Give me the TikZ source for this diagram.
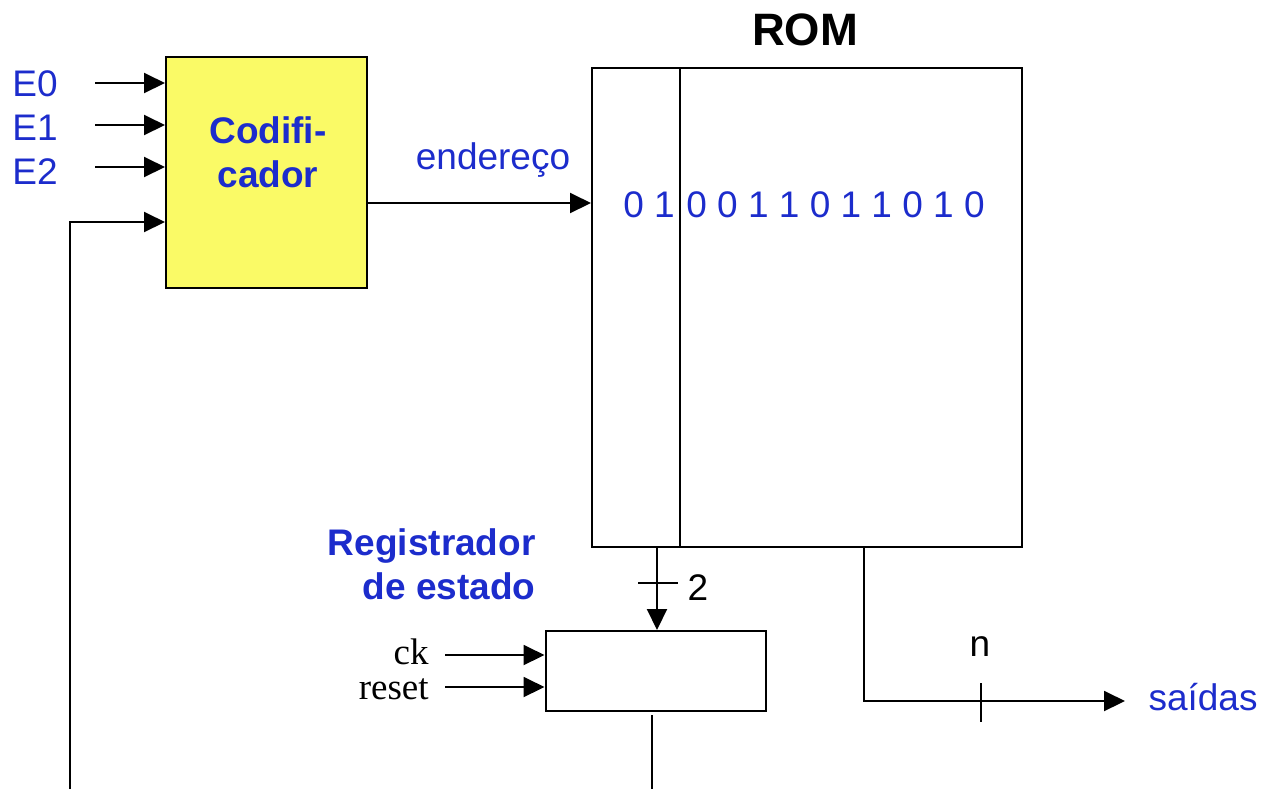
\documentclass[tikz,border=0pt]{standalone}
\usepackage{fontspec}
\setmainfont{Liberation Sans}
\newfontfamily\timesx{Liberation Serif}
\usetikzlibrary{arrows.meta,calc}
\definecolor{lblue}{RGB}{28,44,204}
\definecolor{lyellow}{RGB}{250,250,102}
\tikzset{
  wire/.style={line width=1pt},
  arr/.style={wire,-{Triangle[length=10.5pt,width=10pt]}},
  blk/.style={draw,line width=1pt,rectangle,inner sep=0pt},
  txt/.style={font=\fontsize{18.5}{22}\selectfont,inner sep=0pt},
  btxt/.style={font=\fontsize{18.5}{22}\selectfont\bfseries,inner sep=0pt,text=lblue},
  btext/.style={txt,text=lblue},
}
\begin{document}
\begin{tikzpicture}[x=0.5pt,y=-0.5pt]
\useasboundingbox (0,0) rectangle (1263,789);

% ROM block with its two column fields
\node[font=\fontsize{22.7}{26}\selectfont\bfseries,inner sep=0pt] (romt) at (805,30) {ROM};
\node[blk,minimum width=215pt,minimum height=239.5pt] (rom) at (807,307.5) {};
\coordinate (divt) at (680,68);
\coordinate (divb) at (680,547);
\draw[wire] (divt) -- (divb);
\node[btext,anchor=west] (bitsa) at (623,205) {0 1};
\node[btext,anchor=west] (bitsb) at (686,205) {0 0 1 1 0 1 1 0 1 0};

% encoder
\node[blk,fill=lyellow,minimum width=100.5pt,minimum height=115.5pt] (cod) at (266.5,172.5) {};
\node[btxt,align=center] (codt) at (268,152) {Codifi-\\cador};

% inputs of the encoder
\node[btext] (e0) at (35,84) {E0};
\node[btext] (e1) at (35,128) {E1};
\node[btext] (e2) at (35,172) {E2};
\coordinate (i0) at (95,83);
\coordinate (i1) at (95,125);
\coordinate (i2) at (95,167);
\draw[arr] (i0) -- (i0 -| cod.west);
\draw[arr] (i1) -- (i1 -| cod.west);
\draw[arr] (i2) -- (i2 -| cod.west);

% address bus
\coordinate (ad) at (367,203);
\draw[arr] (ad) -- (ad -| rom.west);
\node[btext] (end) at (493,160) {endereço};

% state register
\node[blk,minimum width=110pt,minimum height=40pt] (reg) at (655.5,671) {};
\node[btxt,align=right,anchor=east] (regt) at (536,564.5) {Registrador\\de estado};
\coordinate (st) at (657,547);
\draw[arr] (st) -- (st |- reg.north);
\coordinate (tk1) at (638,583);
\coordinate (tk2) at (678,583);
\draw[wire] (tk1) -- (tk2);
\node[txt] (two) at (698,588) {2};

\node[txt,font=\timesx\fontsize{18.5}{22}\selectfont,anchor=east] (ck) at (429,652) {ck};
\node[txt,font=\timesx\fontsize{18.5}{22}\selectfont,anchor=east] (rst) at (429,689) {reset};
\coordinate (ckc) at (445,655);
\coordinate (rsc) at (445,687);
\draw[arr] (ckc) -- (ckc -| reg.west);
\draw[arr] (rsc) -- (rsc -| reg.west);

% feedback from the register to the encoder
\coordinate (rgo) at (652,715);
\coordinate (rgb) at (652,789);
\draw[wire] (rgo) -- (rgb);
\coordinate (fbb) at (70,789);
\coordinate (fbt) at (70,222);
\draw[arr] (fbb) -- (fbt) -- (fbt -| cod.west);

% outputs
\coordinate (ot) at (864,547);
\coordinate (oc) at (864,701);
\coordinate (oe) at (1125,701);
\draw[arr] (ot) -- (oc) -- (oe);
\coordinate (nk1) at (981,683);
\coordinate (nk2) at (981,722);
\draw[wire] (nk1) -- (nk2);
\node[txt] (n) at (980,647) {n};
\node[btext] (sai) at (1203,697) {saídas};
\end{tikzpicture}
\end{document}
